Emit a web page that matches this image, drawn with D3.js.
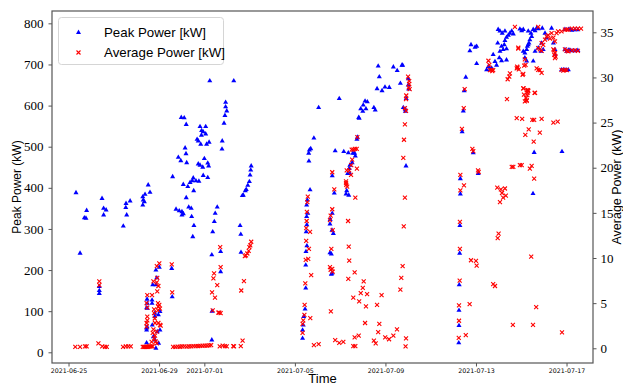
<!DOCTYPE html>
<html>
<head>
<meta charset="utf-8">
<script src="https://cdn.jsdelivr.net/npm/d3@7"></script>
<style>
  body { margin: 0; background: #fff; }
</style>
</head>
<body>
<div id="chart"></div>
<script>
// Time is stored as fractional days since 2021-06-25 00:00
const startDate = new Date(2021, 5, 25);

// Peak power sessions [day, kW]
const peakData = [
  [0.33,388],[0.51,241],[0.80,345],[0.70,327],[0.77,326],
  [1.36,160],[1.36,150],[1.36,143],[1.48,374],[1.55,350],[1.66,346],[1.55,334],
  [2.42,307],[2.53,352],[2.54,362],[2.72,368],[2.57,334],
  [3.28,378],[3.30,370],[3.38,384],[3.52,407],[3.60,389],[3.35,366],[3.28,358],
  [3.45,23],[3.48,119],[3.48,107],[3.45,59],[3.45,54],[3.69,119],[3.69,127],[3.72,164],[3.70,66],
  [3.86,200],[3.86,164],[3.81,95],[3.81,87],[3.92,50],[3.98,22],[3.86,10],[3.82,30],[4.04,99],[4.04,54],
  [3.90,181],[4.01,207],[3.47,129],[3.45,108],[3.47,62],[3.75,38],[3.97,91],
  [4.56,204],[4.58,135],
  [4.60,427],[4.85,474],[4.96,466],[5.22,461],[4.98,571],[5.11,570],[5.20,554],[5.81,549],[6.06,549],
  [5.88,539],[5.95,536],[6.06,531],[5.87,528],[5.68,518],[5.73,514],[5.84,506],[6.10,506],[6.21,511],
  [6.79,514],[6.78,494],[5.15,497],[5.19,483],[6.00,471],[5.73,458],[5.81,455],[5.93,450],[6.15,460],
  [6.19,453],[5.51,424],[5.47,417],[5.63,417],[5.76,416],[5.95,430],[6.15,425],[5.37,413],[5.27,403],
  [5.07,408],[5.53,393],[5.20,376],[4.75,348],[4.89,344],[5.01,342],[5.07,337],[5.01,334],[5.31,353],
  [5.42,350],[5.44,330],[5.54,308],[5.49,281],[6.57,353],[6.48,338],[6.44,318],[6.37,293],[6.33,237],
  [6.72,245],[6.72,196],[6.34,100],[6.33,30],[7.58,308],[7.61,287],[7.62,243],
  [6.24,660],[7.30,660],[6.94,608],[6.94,597],[6.99,587],[6.91,576],[6.87,557],
  [8.07,453],[8.05,443],[8.02,431],[7.99,415],[7.92,406],[7.85,396],[7.81,393],[7.72,382],[7.68,381],
  [10.55,370],[10.52,358],[10.57,338],[10.52,330],[10.53,310],[10.50,293],[10.53,259],[10.49,245],
  [10.48,212],[10.48,156],[10.45,105],[10.39,87],[10.37,66],[10.34,54],[10.34,34],
  [10.84,521],[10.70,495],[10.64,492],[10.61,484],[10.62,465],[10.67,395],
  [11.78,490],[12.16,488],[12.36,485],
  [11.65,429],[11.74,387],[11.65,338],[11.56,323],[11.55,312],[11.64,297],[11.70,289],[11.55,242],
  [11.61,239],[11.61,190],[11.64,192],
  [12.74,518],[12.76,523],[12.64,484],[12.67,477],[12.56,484],[12.53,461],[12.43,455],[12.40,447],
  [12.33,435],[12.43,435],[12.29,393],[12.38,382],[12.26,385],
  [11.96,617],[11.05,595],[13.10,611],[13.20,609],[13.02,601],[12.91,592],[13.14,592],[13.00,586],
  [13.49,595],[13.55,589],[12.82,571],[12.84,569],[13.68,696],[14.35,694],[14.52,685],[14.73,698],
  [14.76,698],[13.73,670],[14.66,654],[13.63,641],[13.85,636],[13.98,645],[14.17,644],[14.79,595],
  [14.88,591],[14.88,586],[14.92,617],[14.91,453],[15.01,665],[15.01,650],[15.03,640],
  [17.55,669],[17.48,636],[17.44,587],[17.39,536],[17.88,485],[18.10,435],[17.31,422],[17.31,385],
  [17.29,308],[17.28,241],[17.26,164],[17.25,102],[17.25,65],[17.24,23],
  [20.57,486],[21.80,488],[20.52,386],
  [18.98,785],[19.06,781],[19.16,776],[19.28,781],[19.50,776],[19.58,781],[19.65,774],[19.94,786],
  [20.02,782],[20.09,785],[19.43,771],[19.35,766],[19.28,758],[19.25,748],[19.13,744],[19.20,736],
  [19.35,738],[19.06,732],[18.96,752],[19.03,716],[18.84,707],[18.91,698],[18.76,724],[18.69,691],
  [18.62,687],[18.55,695],[18.47,687],[19.35,711],[19.13,709],[18.03,702],[17.78,748],[17.73,733],
  [17.96,742],[18.03,744],
  [20.31,781],[20.43,776],[20.53,785],[20.61,782],[20.68,788],[20.75,787],[20.93,788],[20.46,768],
  [20.38,760],[20.31,748],[20.24,736],[20.16,728],[20.09,732],[20.16,716],[20.24,708],[20.27,744],
  [20.34,752],[20.61,732],[20.53,708],[20.75,740],[20.87,732],[20.97,736],[20.90,752],[21.12,764],
  [21.05,776],[21.34,788],[21.42,752],[21.49,736],[21.49,724],[21.93,736],[22.01,732],[21.78,687],
  [21.86,687],[21.93,785],[22.08,785],[22.15,785],[22.24,783],[22.37,784],[22.50,784],
  [22.08,735],[22.15,735],[22.24,733],[22.37,733],[22.50,734],[21.93,687],[22.01,686],[22.08,687]
];

// Average power sessions [day, kW]
const avgData = [
  [0.30,0.15],[0.51,0.15],[0.73,0.2],[0.80,0.2],[1.32,0.55],[1.49,0.2],[1.61,0.15],[1.69,0.15],
  [2.41,0.15],[2.53,0.2],[2.64,0.2],[2.75,0.2],[1.36,7.4],[1.36,7.0],
  [3.28,0.15],[3.33,0.15],[3.38,0.15],[3.42,0.15],[3.47,0.15],[3.52,0.15],[3.57,0.2],[3.62,0.2],
  [3.67,0.2],[3.72,0.2],
  [3.90,9.1],[4.01,9.4],[3.92,7.8],[3.75,7.4],[3.90,7.3],[3.48,5.9],[3.48,3.1],[3.45,2.4],[3.69,5.9],
  [3.95,5.0],[3.97,4.6],[3.95,4.2],[3.78,4.3],[3.78,3.9],[3.97,2.8],[4.07,2.5],[3.72,1.7],[3.82,1.4],
  [3.78,1.1],[3.67,0.7],[3.90,0.55],[3.45,5.0],[3.48,4.5],[3.48,3.5],[3.45,2.8],[3.97,6.9],[3.92,6.3],
  [4.01,4.8],[4.04,4.4],[3.81,3.3],[3.82,2.8],[4.04,2.6],[3.75,2.1],[3.90,1.85],[3.85,0.75],
  [4.56,9.3],[4.58,6.2],
  [4.62,0.15],[4.72,0.15],[4.82,0.18],[4.92,0.17],[5.02,0.2],[5.12,0.2],[5.22,0.19],[5.32,0.22],
  [5.42,0.22],[5.52,0.24],[5.62,0.25],[5.72,0.25],[5.82,0.27],[5.92,0.28],[6.02,0.3],[6.12,0.3],
  [6.22,0.32],[6.30,0.35],
  [6.70,11.2],[6.72,9.0],[6.43,8.3],[6.40,7.75],[6.57,7.0],[6.34,6.2],[6.47,5.6],[6.37,4.2],
  [6.62,3.95],[6.66,3.95],[6.72,3.9],
  [6.68,0.2],[6.81,0.3],[6.91,0.25],[6.99,0.2],[7.28,0.25],[7.31,0.2],[7.61,0.25],[7.69,0.85],
  [8.07,11.8],[8.03,11.4],[7.99,11.2],[7.96,10.8],[7.90,10.5],[7.84,10.3],[7.79,10.2],[7.75,7.45],[7.63,6.4],
  [10.57,16.8],[10.55,16.2],[10.53,15.1],[10.52,14.1],[10.50,13.3],[10.67,12.9],[10.50,11.9],[10.62,11.0],
  [10.48,9.8],[10.59,9.9],[10.72,8.1],[10.46,7.2],[10.43,4.8],[10.42,3.7],[10.68,3.35],[10.37,3.1],
  [10.34,2.7],[10.34,1.7],[10.84,0.35],[11.05,0.45],
  [11.65,19.5],[11.74,17.6],[11.65,15.4],[11.58,14.7],[11.55,14.2],[11.67,13.1],[11.61,11.0],[11.55,9.0],
  [11.65,8.8],[11.58,8.7],[11.67,8.5],[11.59,4.1],
  [12.51,22.0],[12.58,22.0],[12.65,22.1],[12.73,22.1],[12.76,23.4],[12.53,20.9],[12.49,20.3],[12.74,19.9],
  [12.48,19.2],[12.29,19.7],[12.40,19.7],[12.26,18.5],[12.26,18.3],[12.27,18.1],[12.31,17.9],[12.67,16.7],
  [12.35,14.1],[12.38,11.25],[12.40,9.7],[12.64,8.4],[12.36,7.7],[13.04,7.4],[13.00,6.7],[12.91,6.1],
  [13.19,6.0],[12.58,5.6],[12.84,5.2],[13.14,4.65],[13.83,5.9],[13.63,4.8],[13.10,2.8],[13.73,2.7],
  [13.68,1.8],[14.51,2.1],[14.35,1.4],[13.99,1.2],[14.16,1.0],[12.82,1.4],[12.64,1.2],[11.78,0.9],
  [11.96,0.6],[12.14,0.7],[12.58,0.25],[12.67,0.25],[13.49,0.85],[13.57,0.55],
  [15.00,30.1],[15.05,29.6],[15.05,29.3],[15.03,28.9],[15.07,28.7],[14.92,28.0],[14.91,27.6],[14.86,26.6],
  [14.91,26.3],[14.86,24.8],[14.82,23.1],[14.79,21.1],[14.86,16.7],[14.81,13.5],[14.76,9.1],[14.70,7.8],
  [14.66,6.5],[14.91,1.1],[14.89,0.2],
  [17.50,28.7],[17.46,26.6],[17.38,24.3],[17.84,22.1],[18.09,19.7],[17.31,19.2],[17.47,18.05],[17.31,17.5],
  [17.29,14.0],[17.29,11.0],[17.78,9.75],[18.00,9.67],[18.03,9.15],[17.28,7.5],[18.76,7.1],[18.84,6.9],
  [17.72,4.9],[17.25,4.75],[17.25,3.05],[17.55,1.45],[17.24,1.15],[19.63,2.6],[20.52,2.6],[20.66,4.55],
  [21.80,1.75],[20.44,10.15],[19.00,12.7],[18.96,12.2],
  [18.94,17.8],[19.10,17.6],[19.28,17.7],[19.15,17.2],[19.20,16.7],[19.32,16.9],[19.06,16.2],
  [19.58,20.1],[19.65,20.1],[19.94,20.3],[20.02,20.3],[20.38,19.9],[20.46,20.2],[20.57,18.8],
  [19.80,25.5],[20.04,25.4],[20.49,25.3],[20.57,25.3],[20.90,25.4],[21.42,25.0],[21.61,25.1],
  [20.33,24.25],[20.18,23.65],[20.82,23.9],[20.55,22.9],[17.88,21.85],[18.12,19.55],
  [20.24,27.4],[19.37,27.6],[20.12,28.1],[20.10,28.8],[20.30,28.6],[20.27,28.05],[20.24,27.5],[20.31,28.5],
  [20.59,28.3],[19.40,29.8],[19.47,30.1],[19.50,30.45],[20.06,30.3],[20.90,30.5],
  [19.72,35.6],[20.75,35.6],[19.87,33.3],[20.09,30.4],[19.80,31.0],[19.84,31.1],[20.16,32.0],[20.19,31.4],
  [20.13,31.3],[20.68,31.0],[20.75,30.85],[18.55,31.85],[18.59,31.4],[18.69,30.85],[18.72,30.7],
  [20.09,28.8],[20.24,28.6],[20.28,28.3],[20.21,27.7],[20.16,27.35],[20.61,28.3],
  [20.90,33.8],[20.97,33.6],[21.05,34.2],[21.12,34.55],[21.19,34.7],[21.34,34.9],[21.42,34.4],[21.49,34.0],
  [21.56,34.9],[21.63,35.1],[21.78,35.1],[21.93,35.3],[22.01,35.3],[22.08,35.3],[22.24,35.4],[22.37,35.4],
  [22.50,35.4],[22.64,35.4],
  [20.75,33.25],[20.82,33.1],[20.90,32.95],[21.42,33.1],[21.46,32.5],[21.49,32.15],[21.93,33.1],[22.01,32.95],
  [22.08,32.9],[22.24,33.0],[22.37,33.0],[22.50,32.95],[21.78,30.85],[21.86,30.75],[21.93,30.85],[22.01,30.8],
  [18.62,30.8],[18.76,30.8],[19.87,33.2],[19.82,31.2],[19.89,30.9],[20.82,30.8],
  [21.27,34.3],[21.45,33.0],[21.49,32.7],[21.52,32.3]
];

// Tick labels
const dateTicks = ["2021-06-25", "2021-06-29", "2021-07-01", "2021-07-05", "2021-07-09", "2021-07-13", "2021-07-17"];
const peakTicks = [0, 100, 200, 300, 400, 500, 600, 700, 800];
const avgTicks = [0, 5, 10, 15, 20, 25, 30, 35];

const dayToDate = d => new Date(startDate.getTime() + d * 864e5);
const parseDate = d3.timeParse("%Y-%m-%d");

// Dimensions
const W = 623, H = 386;
const margin = {top: 11, right: 30, bottom: 23, left: 52};
const width = W - margin.left - margin.right;
const height = H - margin.top - margin.bottom;

const svg = d3.select("#chart")
    .append("svg")
    .attr("width", W)
    .attr("height", H);

const g = svg.append("g")
    .attr("transform", `translate(${margin.left},${margin.top})`);

// Scales
const xScale = d3.scaleTime()
    .domain([dayToDate(-0.73), dayToDate(23.17)])
    .range([0, width]);

const yPeak = d3.scaleLinear()
    .domain([-26, 830])
    .range([height, 0]);

const yAvg = d3.scaleLinear()
    .domain([-1.63, 37.36])
    .range([height, 0]);

// Axes
const xAxis = g.append("g")
    .attr("transform", `translate(0,${height})`)
    .call(d3.axisBottom(xScale)
        .tickValues(dateTicks.map(parseDate))
        .tickFormat(d3.timeFormat("%Y-%m-%d"))
        .tickSizeOuter(0)
        .tickSize(3.5)
        .tickPadding(2));
xAxis.selectAll("text")
    .style("font-family", "'DejaVu Sans', sans-serif")
    .style("font-size", "6.3px")
    .attr("fill", "#000");

const leftAxis = g.append("g")
    .call(d3.axisLeft(yPeak).tickValues(peakTicks).tickSizeOuter(0).tickSize(3.5).tickPadding(5));

const rightAxis = g.append("g")
    .attr("transform", `translate(${width},0)`)
    .call(d3.axisRight(yAvg).tickValues(avgTicks).tickSizeOuter(0).tickSize(3.5).tickPadding(4));

[leftAxis, rightAxis].forEach(a => {
    a.selectAll("text")
        .style("font-family", "'Liberation Serif', 'DejaVu Serif', serif")
        .style("font-size", "13px")
        .attr("fill", "#000");
});

[xAxis, leftAxis, rightAxis].forEach(a => {
    a.select(".domain").remove();
    a.selectAll("line").attr("stroke", "#555");
});

// Frame
g.append("rect")
    .attr("width", width)
    .attr("height", height)
    .attr("fill", "none")
    .attr("stroke", "#555")
    .attr("stroke-width", 1.2);

// Peak power markers
const tri = d3.symbol().type(d3.symbolTriangle).size(11);
g.append("g")
    .selectAll("path")
    .data(peakData)
    .enter()
    .append("path")
    .attr("d", tri)
    .attr("transform", d => `translate(${xScale(dayToDate(d[0]))},${yPeak(d[1])})`)
    .attr("fill", "#0000ff");

// Average power markers
const xMark = "M-2,-2L2,2M-2,2L2,-2";
g.append("g")
    .selectAll("path")
    .data(avgData)
    .enter()
    .append("path")
    .attr("d", xMark)
    .attr("transform", d => `translate(${xScale(dayToDate(d[0]))},${yAvg(d[1])})`)
    .attr("fill", "none")
    .attr("stroke", "#ff0000")
    .attr("stroke-width", 1.1);

// Axis labels
svg.append("text")
    .attr("transform", `translate(21,${margin.top + height / 2}) rotate(-90)`)
    .style("text-anchor", "middle")
    .style("font-family", "'Liberation Sans', sans-serif")
    .style("font-size", "12px")
    .text("Peak Power (kW)");

svg.append("text")
    .attr("transform", `translate(${W - 2},${margin.top + height / 2}) rotate(-90)`)
    .style("text-anchor", "middle")
    .style("font-family", "'Liberation Sans', sans-serif")
    .style("font-size", "12.5px")
    .text("Average Power (kW)");

svg.append("text")
    .attr("x", margin.left + width / 2)
    .attr("y", 383)
    .style("text-anchor", "middle")
    .style("font-family", "'Liberation Sans', sans-serif")
    .style("font-size", "13px")
    .text("Time");

// Legend
const legend = svg.append("g");
legend.append("rect")
    .attr("x", 58.5)
    .attr("y", 17.5)
    .attr("width", 165)
    .attr("height", 47)
    .attr("rx", 3)
    .attr("fill", "#fff")
    .attr("fill-opacity", 0.8)
    .attr("stroke", "#d5d5d5");

legend.append("path")
    .attr("d", tri)
    .attr("transform", "translate(78.5,32.5)")
    .attr("fill", "#0000ff");
legend.append("path")
    .attr("d", xMark)
    .attr("transform", "translate(78.5,52.5)")
    .attr("fill", "none")
    .attr("stroke", "#ff0000")
    .attr("stroke-width", 1.1);

legend.selectAll("text.lbl")
    .data(["Peak Power [kW]", "Average Power [kW]"])
    .enter()
    .append("text")
    .attr("x", 104)
    .attr("y", (d, i) => 37 + i * 20)
    .style("font-family", "'Liberation Sans', sans-serif")
    .style("font-size", "13.3px")
    .text(d => d);
</script>
</body>
</html>
